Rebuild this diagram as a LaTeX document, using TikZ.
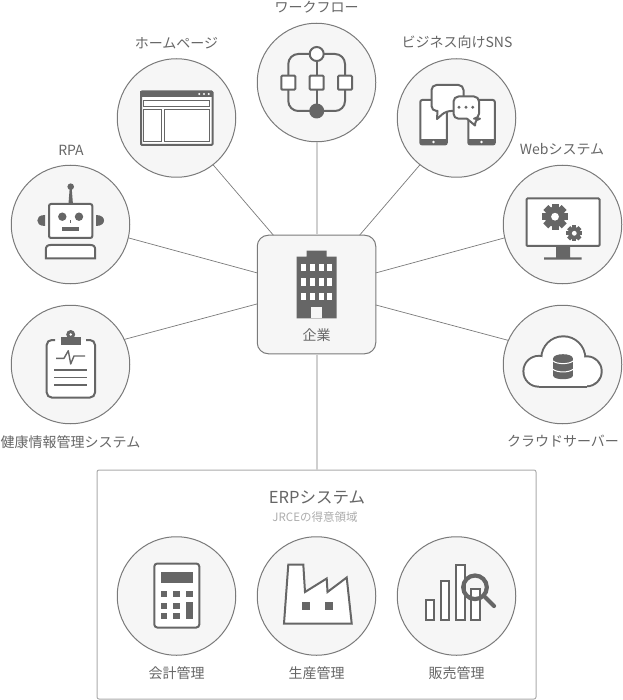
\documentclass[tikz,border=0pt]{standalone}
\usepackage{fontspec}
\setmainfont{Noto Sans CJK JP}
\definecolor{icongray}{HTML}{666666}
\definecolor{textgray}{HTML}{666666}
\definecolor{subgray}{HTML}{ADADAD}
\definecolor{ringgray}{HTML}{7A7A7A}
\definecolor{panelgray}{HTML}{F6F6F6}
\definecolor{stemgray}{HTML}{CFCFCF}
\definecolor{boxgray}{HTML}{ABABAB}
\tikzset{
  hubcircle/.style={circle,draw=ringgray,fill=panelgray,line width=1pt,minimum size=118.5pt,inner sep=0pt,outer sep=0pt},
  hubbox/.style={rectangle,rounded corners=11pt,draw=ringgray,fill=panelgray,line width=1pt,minimum size=118.5pt,inner sep=0pt,outer sep=0pt},
  erpbox/.style={rectangle,rounded corners=2pt,draw=boxgray,fill=white,line width=1pt,minimum width=439pt,minimum height=229pt,inner sep=0pt,outer sep=0pt},
  caption/.style={text=textgray,inner sep=0pt,font=\fontsize{14}{16}\selectfont},
  bigcaption/.style={text=textgray,inner sep=0pt,font=\fontsize{16.5}{18}\selectfont},
  smallcaption/.style={text=subgray,inner sep=0pt,font=\fontsize{11.5}{12}\selectfont},
  spoke/.style={draw=ringgray,line width=0.7pt},
  stem/.style={draw=stemgray,line width=2pt},
  iconline/.style={draw=icongray,line width=2pt,fill=white},
  iconbare/.style={draw=icongray,line width=2pt},
  iconfill/.style={fill=icongray},
}
\newcommand{\gearicon}[3]{
  \foreach \a in {0,45,...,135}
    \fill[iconfill,rotate around={\a:(#1,#2)}] (#1-0.27*#3,#2-#3) rectangle (#1+0.27*#3,#2+#3);
  \fill[iconfill] (#1,#2) circle (0.78*#3);
  \fill[white] (#1,#2) circle (0.3*#3);
}
\begin{document}
\begin{tikzpicture}[x=1pt,y=-1pt]
\useasboundingbox (0,0) rectangle (622,700);

\node[erpbox] (erp) at (316.5,584.5) {};
\node[hubbox] (company) at (316.5,294.5) {};
\node[hubcircle] (workflow) at (316.5,82.5) {};
\node[hubcircle] (homepage) at (176.5,118) {};
\node[hubcircle] (sns) at (456.5,118) {};
\node[hubcircle] (web) at (562.5,224.5) {};
\node[hubcircle] (rpa) at (70.5,224.5) {};
\node[hubcircle] (health) at (70.5,364.5) {};
\node[hubcircle] (cloud) at (562.5,364.5) {};
\node[hubcircle] (account) at (176.5,596) {};
\node[hubcircle] (factory) at (316.5,596) {};
\node[hubcircle] (sales) at (456.5,596) {};

\draw[stem] (workflow) -- (company);
\draw[stem] (company) -- (erp);
\draw[spoke] (homepage.-52) -- (company.126);
\draw[spoke] (sns.-128) -- (company.54);
\draw[spoke] (web.193) -- (company.20);
\draw[spoke] (rpa.-13) -- (company.160);
\draw[spoke] (health.25) -- (company.189);
\draw[spoke] (cloud.156) -- (company.-10);

\node[caption] (workflowname) at (316.5,7) {ワークフロー};
\node[caption] (homepagename) at (176.5,43) {ホームページ};
\node[caption] (snsname) at (457,42) {ビジネス向けSNS};
\node[caption] (webname) at (562,149) {Webシステム};
\node[caption] (rpaname) at (71,150) {RPA};
\node[caption] (healthname) at (70.5,442) {健康情報管理システム};
\node[caption] (cloudname) at (563,441) {クラウドサーバー};
\node[caption] (companyname) at (316.5,335) {企業};
\node[bigcaption] (erpname) at (317,498) {ERPシステム};
\node[smallcaption] (erpnote) at (315,517) {JRCEの得意領域};
\node[caption] (accountname) at (176.5,673) {会計管理};
\node[caption] (factoryname) at (316.5,673) {生産管理};
\node[caption] (salesname) at (456.5,673) {販売管理};

% building
\fill[iconfill] (306.7,250.7) rectangle (326.7,257) (296.7,256.7) rectangle (336.7,318.3);
\foreach \yy in {267.3,281.7,296.3}
  \foreach \xx in {303.3,312,321,329.3}
    \fill[white] (\xx-2.5,\yy-3.8) rectangle (\xx+2.5,\yy+3.8);
\fill[panelgray] (311,306.7) rectangle (322.3,318.4);

% workflow
\draw[iconbare,rounded corners=10pt] (288.3,54) rectangle (345,111);
\draw[iconbare] (316.7,54) -- (316.7,111);
\foreach \xx in {288.3,316.7,345}
  \draw[iconline,rounded corners=1pt] (\xx-7,75.7) rectangle (\xx+7,89.7);
\draw[iconline] (316.7,54) circle (7);
\fill[iconfill] (316.7,111) circle (7.5);

% homepage
\draw[iconline,rounded corners=1pt] (141,91.5) rectangle (212.5,145);
\fill[iconfill] (140,90.7) rectangle (213.3,97.3);
\foreach \xx in {199.3,204,208.7}
  \fill[white] (\xx,94) circle (1.1);
\draw[iconline,line width=1.3pt] (143.8,100.5) rectangle (209.8,106.5);
\draw[iconline,line width=1.3pt] (143.8,109.8) rectangle (161.8,141.5);
\draw[iconline,line width=1.3pt] (164.5,109.8) rectangle (209.8,141.5);

% sns
\foreach \xx in {420.3,468.3}{
  \draw[iconline,rounded corners=2pt] (\xx,100) rectangle (\xx+26.5,144.5);
  \fill[iconfill] (\xx,139.5) rectangle (\xx+26.5,144.5);
  \fill[white] (\xx+13.2,142) circle (1.3);
}
\draw[iconline,rounded corners=5pt,line join=round] (431.5,85) -- (463.5,85) -- (463.5,111) -- (446,111) [sharp corners] -- (437,119) -- (437.5,111) [rounded corners=5pt] -- (431.5,111) -- cycle;
\draw[iconline,rounded corners=5pt,line join=round] (453.5,96.5) -- (479,96.5) -- (479,118.7) -- (475,118.7) [sharp corners] -- (475,125.5) -- (467,118.7) [rounded corners=5pt] -- (453.5,118.7) -- cycle;
\foreach \xx in {459,466,472.7}
  \fill[iconfill] (\xx,107.3) circle (1.6);

% web
\draw[iconbare,rounded corners=1pt,fill=white] (526.5,198.5) rectangle (599.5,246);
\fill[iconfill] (556,246) rectangle (570,257.3) (544,257.3) rectangle (581.7,259.5);
\gearicon{555}{216.7}{13}
\gearicon{574.3}{233.3}{8}

% rpa
\draw[iconline,rounded corners=2pt] (49,204) rectangle (92.3,238);
\fill[iconfill] (62.3,216.7) circle (4.2) (79,216.7) circle (4.2);
\fill[iconfill] (70,220.5) rectangle (71.4,223);
\fill[iconfill] (61.7,226.7) rectangle (79.3,230.7);
\fill[iconfill] (70.7,186.7) circle (3.3);
\fill[iconfill] (69.7,188) -- (71.7,188) -- (72.9,203.5) -- (68.5,203.5) -- cycle;
\fill[iconfill] (45,215) .. controls (39,215) and (37.3,218) .. (37.3,220.5) .. controls (37.3,223) and (39,226) .. (45,226) -- cycle;
\fill[iconfill] (96,215) .. controls (102,215) and (104,218) .. (104,220.5) .. controls (104,223) and (102,226) .. (96,226) -- cycle;
\draw[iconline] (45.8,258.3) -- (45.8,250) .. controls (45.8,246.5) and (47.3,245) .. (50.5,245) -- (90.5,245) .. controls (93.7,245) and (95.2,246.5) .. (95.2,250) -- (95.2,258.3) -- cycle;

% health
\draw[iconline,rounded corners=5pt] (55,340) -- (46.7,340) -- (46.7,397.5) -- (95,397.5) -- (95,340) -- (86,340);
\fill[iconfill] (61,336.7) rectangle (81,345);
\fill[iconfill] (70.7,334.5) circle (4.5);
\fill[white] (70.7,334.5) circle (1.4);
\draw[icongray,line width=1.4pt,line join=round] (56,358.3) -- (64,358.3) -- (68.3,350.7) -- (70.7,364) -- (74,356) -- (85,356);
\foreach \yy in {370,377.3,385}
  \draw[icongray,line width=1.4pt] (54.3,\yy) -- (86.7,\yy);

% cloud
\foreach \xx/\yy/\rr in {538.8/371.3/15.4,563.3/358.3/22,586.7/371.3/15}
  \fill[iconfill] (\xx,\yy) circle (\rr+1);
\fill[iconfill] (538.8,371.3) rectangle (586.7,387.7);
\foreach \xx/\yy/\rr in {538.8/371.3/15.4,563.3/358.3/22,586.7/371.3/15}
  \fill[white] (\xx,\yy) circle (\rr-1);
\fill[white] (538.8,371.3) rectangle (586.7,385.7);
\fill[iconfill] (553.3,358) rectangle (572.7,376);
\fill[iconfill] (563,358) ellipse (9.7 and 3.8);
\fill[iconfill] (563,376) ellipse (9.7 and 3.2);
\foreach \yy in {361,369.3}
  \draw[white,line width=1pt] (553,\yy) .. controls (557,\yy+3.5) and (569,\yy+3.5) .. (573,\yy);

% calculator
\draw[iconline,rounded corners=3pt] (154.3,563.5) rectangle (199.3,627.5);
\fill[iconfill] (160.7,572.3) rectangle (192.7,582.7);
\foreach \xx/\yy in {164/594.3,176.3/594.3,189.3/594.3,164/605.7,176.3/605.7,164/616,176.3/616}
  \fill[iconfill] (\xx-3.3,\yy-3) rectangle (\xx+3.3,\yy+3);
\fill[iconfill] (186,602.3) rectangle (192.7,619.3);

% factory
\draw[iconline,line join=miter] (305,592) -- (326.7,578.5) -- (327.5,592) -- (346.7,577.5) -- (351.7,623.5) -- (284,623.5) -- (288.3,564.5) -- (303.3,564.5) -- cycle;
\fill[iconfill] (301.7,601.7) rectangle (309.7,609.5);
\fill[iconfill] (325,601.7) rectangle (333.3,609.5);

% sales
\foreach \xx/\yy in {425.8/600,440.8/580.8,456.3/565,471.3/589}
  \draw[iconline] (\xx,\yy) rectangle (\xx+8.6,619.6);
\draw[icongray,line width=4.2pt] (475,587.3) circle (11.8);
\draw[icongray,line width=4.2pt,line cap=round] (485,597) -- (494,606);
\end{tikzpicture}
\end{document}
